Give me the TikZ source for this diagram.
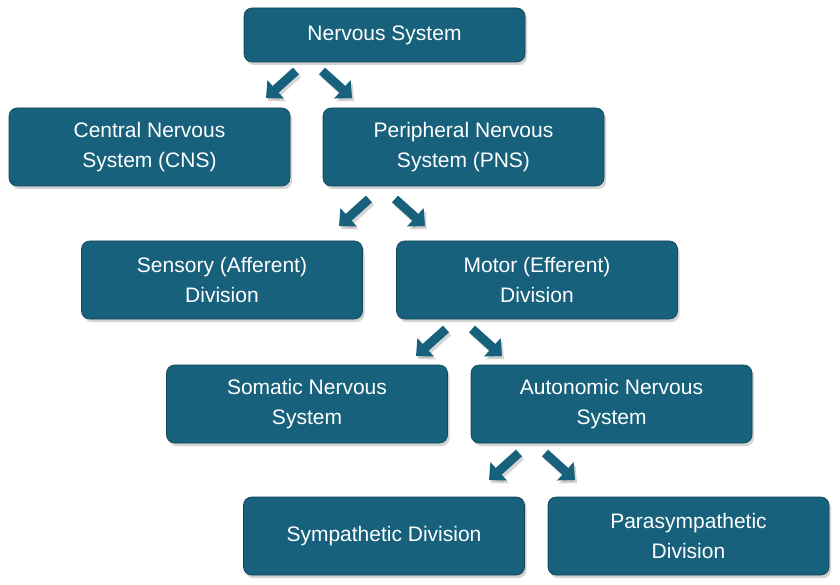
\documentclass[tikz,border=0pt]{standalone}
\usepackage{fontspec}
\setmainfont{Liberation Sans}
\usetikzlibrary{arrows.meta,shadows}
\definecolor{teal1}{HTML}{17617C}
\begin{document}
\begin{tikzpicture}[x=1pt,y=-1pt,
 box/.style={draw=teal1!70!black,line width=0.6pt,fill=teal1,rounded corners=8pt,minimum width=281pt,minimum height=78pt,text=white,align=center,font=\fontsize{21}{30}\selectfont,inner sep=0pt,drop shadow={shadow xshift=2pt,shadow yshift=-3pt,opacity=0.35}},
 arr/.style={teal1,line width=9pt,-{Triangle[length=13pt,width=24pt]},preaction={draw=black!40,opacity=0.4,line width=9pt,-{Triangle[length=13pt,width=24pt]},transform canvas={shift={(2pt,-3pt)}}}}]
\useasboundingbox (0,0) rectangle (840,585);
\node[box,minimum height=54pt] (ns) at (384.5,35) {Nervous System};
\node[box] (cns) at (149.5,147) {Central Nervous\\System (CNS)};
\node[box] (pns) at (463.5,147) {Peripheral Nervous\\System (PNS)};
\node[box] (sen) at (222,280) {Sensory (Afferent)\\Division};
\node[box] (mot) at (537,280) {Motor (Efferent)\\Division};
\node[box] (som) at (307,404) {Somatic Nervous\\System};
\node[box] (aut) at (611.5,404) {Autonomic Nervous\\System};
\node[box] (sym) at (384,536) {Sympathetic Division};
\node[box] (par) at (688.5,536) {Parasympathetic\\Division};
\foreach \n/\x/\y in {a/296/71,b/369/199,c/446/329,d/519/453}{
 \coordinate (\n1) at (\x,\y);
 \coordinate (\n2) at (\x-30,\y+27);
 \coordinate (\n3) at (\x+26,\y);
 \coordinate (\n4) at (\x+56,\y+27);
 \draw[arr] (\n1) -- (\n2);
 \draw[arr] (\n3) -- (\n4);
}
\end{tikzpicture}
\end{document}
